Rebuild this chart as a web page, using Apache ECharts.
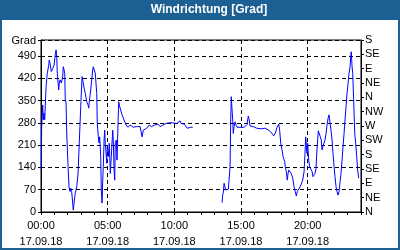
<!DOCTYPE html>
<html>
<head>
<meta charset="utf-8">
<script src="https://cdn.jsdelivr.net/npm/echarts@6/dist/echarts.min.js"></script>
<style>
html,body{margin:0;padding:0;}
#frame{position:absolute;left:0;top:0;width:400px;height:250px;background:#1d6094;}
#inner{position:absolute;left:2px;top:20px;width:396px;height:228px;background:#ffffff;}
#chart{position:absolute;left:0;top:0;width:400px;height:250px;}
</style>
</head>
<body>
<div id="frame"></div>
<div id="inner"></div>
<div id="chart"></div>
<script>
// hours since 00:00 on 17.09.18, and wind direction in degrees
const hours1 = [0.02,0.05,0.13,0.17,0.23,0.28,0.38,0.47,0.58,0.62,0.68,0.77,0.88,0.98,1.05,1.13,1.18,1.22,1.33,1.37,1.43,1.52,1.58,1.63,1.67,1.73,1.78,1.82,1.88,1.93,2.03,2.10,2.18,2.23,2.30,2.38,2.42,2.48,2.53,2.57,2.68,2.78,2.87,2.98,3.08,3.13,3.17,3.23,3.32,3.43,3.53,3.58,3.62,3.73,3.80,3.88,3.92,4.00,4.07,4.18,4.22,4.30,4.35,4.40,4.48,4.52,4.58,4.63,4.67,4.73,4.78,4.82,4.88,4.93,4.97,5.03,5.08,5.12,5.20,5.27,5.38,5.42,5.48,5.53,5.57,5.65,5.70,5.78,5.83,5.87,5.98,6.08,6.23,6.38,6.53,6.68,6.77,6.92,7.05,7.15,7.28,7.43,7.50,7.58,7.63,7.67,7.78,7.93,8.03,8.12,8.30,8.42,8.50,8.63,8.78,8.93,9.13,9.23,9.38,9.47,9.60,9.73,9.85,9.98,10.18,10.30,10.43,10.50,10.63,10.75,10.88,10.97,11.10,11.23,11.30,11.38];
const degrees1 = [132,268,336,289,311,290,393,435,461,477,467,441,451,461,488,509,488,436,383,405,415,405,415,425,456,446,435,352,342,248,142,79,64,75,64,28,6,28,48,59,79,122,217,331,425,430,405,389,373,346,336,326,346,383,414,446,456,451,436,373,279,236,217,236,174,69,28,100,142,226,257,216,184,153,205,195,174,216,121,174,257,226,132,100,216,226,163,283,346,336,320,305,289,273,266,273,278,266,266,268,263,268,263,236,231,257,260,263,266,273,268,263,273,278,276,268,273,278,278,283,280,283,280,281,278,283,286,278,273,276,270,263,268,266,270,266];
const gapHour = 12.5;
const hours2 = [13.58,13.62,13.67,13.73,13.80,13.85,13.90,13.95,14.05,14.12,14.18,14.23,14.27,14.33,14.38,14.42,14.48,14.55,14.63,14.70,14.80,14.93,15.08,15.25,15.35,15.45,15.50,15.55,15.62,15.68,15.80,15.92,16.05,16.18,16.30,16.55,16.67,16.78,16.95,17.12,17.33,17.45,17.57,17.70,17.83,17.90,17.98,18.08,18.15,18.23,18.28,18.32,18.40,18.47,18.53,18.58,18.68,18.77,18.88,18.98,19.07,19.15,19.22,19.33,19.43,19.52,19.63,19.73,19.80,19.85,19.90,19.95,20.00,20.08,20.15,20.23,20.33,20.40,20.48,20.55,20.63,20.68,20.75,20.80,20.88,20.95,21.02,21.08,21.15,21.23,21.30,21.38,21.45,21.53,21.60,21.68,21.75,21.83,21.90,21.98,22.05,22.13,22.20,22.28,22.35,22.43,22.50,22.58,22.65,22.73,22.80,22.88,22.95,23.03,23.10,23.18,23.23,23.27,23.33,23.38,23.45,23.53,23.60,23.68,23.75,23.83];
const degrees2 = [29,53,60,90,79,69,64,69,71,74,142,289,362,320,289,247,268,283,273,266,263,266,266,266,270,275,289,301,289,270,266,268,270,263,261,261,263,263,260,255,247,239,247,266,276,257,216,195,174,172,158,142,127,100,121,132,130,121,106,79,64,50,64,69,79,88,100,127,184,236,210,184,216,163,142,140,127,111,116,121,137,184,226,255,255,236,226,195,207,210,226,247,273,294,305,278,257,226,184,142,111,79,64,53,64,95,121,163,205,247,289,331,373,404,435,456,488,503,456,435,352,247,216,174,132,106];

const timeLabels = ['00:00','05:00','10:00','15:00','20:00'];
const dateLabel = '17.09.18';
const leftTicks = [0,70,140,210,280,350,420,490];
const dirLabels = ['N','NE','E','SE','S','SW','W','NW','N','NE','E','SE','S'];
const titleText = 'Windrichtung [Grad]';
const unitText = 'Grad';

const data = [];
hours1.forEach((h,i)=>data.push([h, degrees1[i]]));
data.push([gapHour, '-']);
hours2.forEach((h,i)=>data.push([h, degrees2[i]]));

const font = 'Liberation Sans';
const chart = echarts.init(document.getElementById('chart'), null, {renderer:'canvas'});
chart.setOption({
  animation:false,
  backgroundColor:'transparent',
  graphic:[{
    type:'text', x:209, y:10,
    style:{text:titleText, fill:'#ffffff', font:'bold 12px "Liberation Sans"', textAlign:'center', textVerticalAlign:'middle'}
  }],
  grid:{left:41, right:39, top:40, bottom:38, show:true, borderColor:'#000', borderWidth:1, backgroundColor:'#ffffff'},
  xAxis:[{
    type:'value', min:0, max:24, interval:1, position:'bottom',
    axisLine:{show:true, onZero:false, lineStyle:{color:'#000', width:1}},
    axisTick:{show:true, inside:false, length:3, lineStyle:{color:'#000'}},
    axisLabel:{show:false},
    splitLine:{show:false}
  },{
    type:'value', min:0, max:24, interval:5, position:'bottom',
    axisLine:{show:false, onZero:false},
    axisTick:{show:true, inside:false, length:3, lineStyle:{color:'#000'}},
    axisLabel:{show:true, margin:6, color:'#000', fontFamily:font, fontSize:11, lineHeight:16,
      formatter:function(v){ const i=Math.round(v/5); return (v%5===0 && i<timeLabels.length) ? timeLabels[i]+'\n'+dateLabel : ''; }},
    splitLine:{show:true, lineStyle:{color:'#000', type:[4,3], width:1}}
  }],
  yAxis:[{
    type:'value', min:0, max:540, interval:70, position:'left',
    name:unitText, nameLocation:'end', nameGap:-6,
    nameTextStyle:{color:'#000', fontFamily:font, fontSize:11, align:'right', padding:[0,5,0,0]},
    axisLine:{show:true, onZero:false, lineStyle:{color:'#000'}},
    axisTick:{show:true, inside:false, length:3, lineStyle:{color:'#000'}},
    axisLabel:{show:true, margin:5, color:'#000', fontFamily:font, fontSize:11,
      formatter:function(v){ return leftTicks.indexOf(v)>=0 ? String(v) : ''; }},
    splitLine:{show:true, lineStyle:{color:'#000', type:[4,3], width:1}}
  },{
    type:'value', min:0, max:540, interval:45, position:'right',
    axisLine:{show:true, onZero:false, lineStyle:{color:'#000'}},
    axisTick:{show:true, inside:false, length:3, lineStyle:{color:'#000'}},
    axisLabel:{show:true, margin:4, color:'#000', fontFamily:font, fontSize:11,
      formatter:function(v){ const i=Math.round(v/45); return dirLabels[i]||''; }},
    splitLine:{show:false}
  }],
  series:[{
    type:'line', xAxisIndex:0, yAxisIndex:0, data:data,
    showSymbol:false, symbol:'none', connectNulls:false,
    lineStyle:{color:'#0000ff', width:1}
  }]
});
</script>
</body>
</html>
